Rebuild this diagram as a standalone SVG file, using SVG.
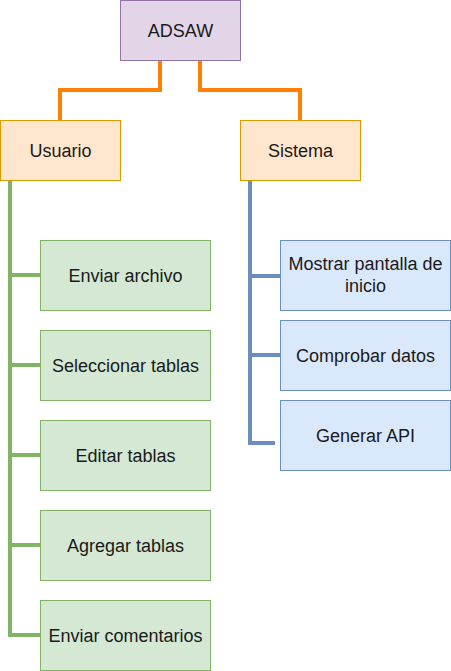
<svg xmlns="http://www.w3.org/2000/svg" width="451" height="671" viewBox="0 0 451 671">
<style>
text{font-family:"Liberation Sans",Arial,Helvetica,sans-serif;font-size:18px;fill:#1a1a1a;text-anchor:middle;dominant-baseline:central}
.root{fill:#e1d5e7;stroke:#9673a6;stroke-width:1}
.mid{fill:#ffe6cc;stroke:#d79b00;stroke-width:1}
.g{fill:#d5e8d4;stroke:#82b366;stroke-width:1}
.b{fill:#dae8fc;stroke:#6c8ebf;stroke-width:1}
.co{fill:none;stroke:#ff8000;stroke-width:4}
.cg{fill:none;stroke:#82b366;stroke-width:4}
.cb{fill:none;stroke:#6c8ebf;stroke-width:4}
</style>
<g id="connectors">
<path class="co" d="M160 60.5V90H60V120.5"/>
<path class="co" d="M200 60.5V90H300V120.5"/>
<path class="cg" d="M10 180.5V635H40.5M10 275H40.5M10 365H40.5M10 455H40.5M10 545H40.5"/>
<path class="cb" d="M250 180.5V443H275M250 276H280.5M250 355H280.5"/>
</g>
<g id="adsaw"><rect class="root" x="120.5" y="0.5" width="120" height="60"/><text x="180.5" y="31">ADSAW</text></g>
<g id="usuario"><rect class="mid" x="0.5" y="120.5" width="120" height="60"/><text x="60.5" y="151">Usuario</text></g>
<g id="sistema"><rect class="mid" x="240.5" y="120.5" width="120" height="60"/><text x="300.5" y="151">Sistema</text></g>
<g id="enviar-archivo"><rect class="g" x="40.5" y="240.5" width="170" height="70"/><text x="125.5" y="275.5">Enviar archivo</text></g>
<g id="seleccionar-tablas"><rect class="g" x="40.5" y="330.5" width="170" height="70"/><text x="125.5" y="365.5">Seleccionar tablas</text></g>
<g id="editar-tablas"><rect class="g" x="40.5" y="420.5" width="170" height="70"/><text x="125.5" y="455.5">Editar tablas</text></g>
<g id="agregar-tablas"><rect class="g" x="40.5" y="510.5" width="170" height="70"/><text x="125.5" y="545.5">Agregar tablas</text></g>
<g id="enviar-comentarios"><rect class="g" x="40.5" y="600.5" width="170" height="70"/><text x="125.5" y="635.5">Enviar comentarios</text></g>
<g id="mostrar-pantalla"><rect class="b" x="280.5" y="240.5" width="170" height="70"/><text x="365.5" y="264">Mostrar pantalla de</text><text x="365.5" y="286">inicio</text></g>
<g id="comprobar-datos"><rect class="b" x="280.5" y="320.5" width="170" height="70"/><text x="365.5" y="355.5">Comprobar datos</text></g>
<g id="generar-api"><rect class="b" x="280.5" y="400.5" width="170" height="70"/><text x="365.5" y="435.5">Generar API</text></g>
</svg>
